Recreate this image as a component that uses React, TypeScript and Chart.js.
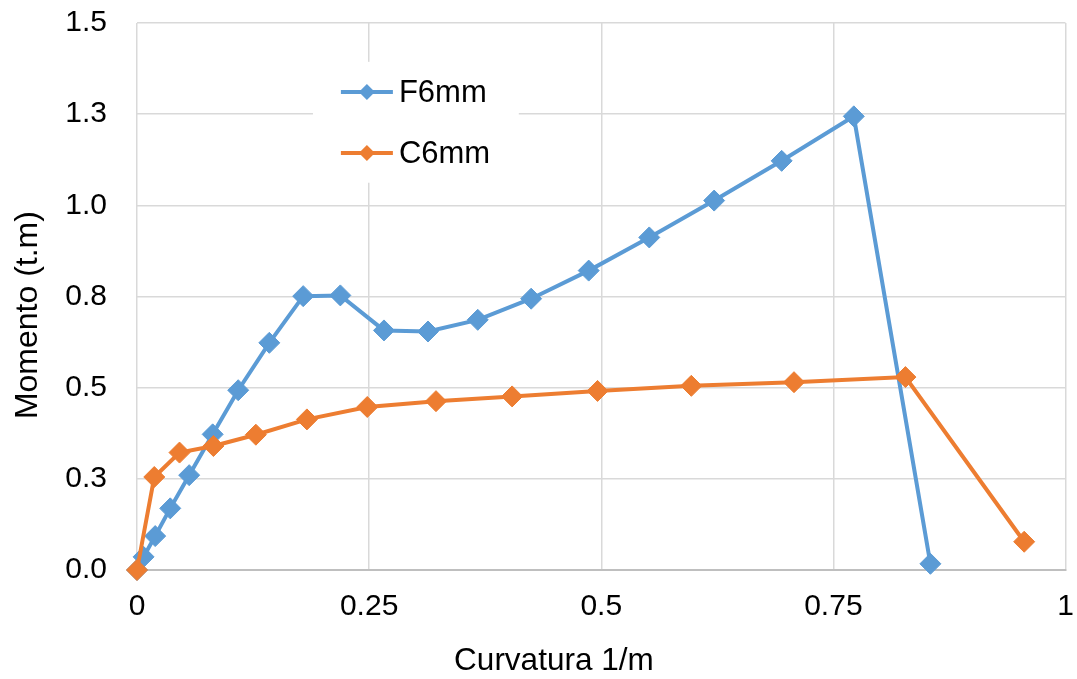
import React, { useEffect, useRef } from "react";
import { Chart, registerables } from "chart.js";

Chart.register(...registerables);

const seriesNames = ["F6mm", "C6mm"];
const seriesColors = ["#5B9BD5", "#ED7D31"];

const f6mmX = [0, 0.0071, 0.0196, 0.0358, 0.0562, 0.0815, 0.109, 0.1425, 0.179, 0.219, 0.266, 0.3134, 0.367, 0.4245, 0.4865, 0.5517, 0.6216, 0.6943, 0.772, 0.8545];
const f6mmY = [0, 0.036, 0.093, 0.169, 0.26, 0.372, 0.493, 0.623, 0.751, 0.753, 0.657, 0.654, 0.686, 0.744, 0.821, 0.912, 1.013, 1.122, 1.244, 0.017];

const c6mmX = [0, 0.0186, 0.0458, 0.0823, 0.128, 0.183, 0.248, 0.322, 0.404, 0.496, 0.597, 0.7076, 0.8276, 0.9555];
const c6mmY = [0, 0.255, 0.322, 0.34, 0.371, 0.413, 0.447, 0.463, 0.476, 0.491, 0.505, 0.515, 0.529, 0.0775];

const xTickLabels = ["0", "0.25", "0.5", "0.75", "1"];
const yTickLabels = ["0.0", "0.3", "0.5", "0.8", "1.0", "1.3", "1.5"];

const xTitle = "Curvatura 1/m";
const yTitle = "Momento (t.m)";

const FONT = "'Liberation Sans', Arial, sans-serif";

function diamond(ctx: CanvasRenderingContext2D, x: number, y: number, r: number, color: string) {
  ctx.beginPath();
  ctx.moveTo(x, y - r);
  ctx.lineTo(x + r, y);
  ctx.lineTo(x, y + r);
  ctx.lineTo(x - r, y);
  ctx.closePath();
  ctx.fillStyle = color;
  ctx.fill();
}

const legendPlugin = {
  id: "customLegend",
  beforeDatasetsDraw(chart: any) {
    const ctx = chart.ctx as CanvasRenderingContext2D;
    const area = chart.chartArea;
    const sx = area.right - area.left;
    const sy = area.bottom - area.top;
    const boxL = area.left + sx * 0.1895;
    const boxT = area.top + sy * 0.071;
    const boxW = sx * 0.2217;
    const boxH = sy * 0.221;
    ctx.save();
    ctx.fillStyle = "#ffffff";
    ctx.fillRect(boxL, boxT, boxW, boxH);
    const rows = [area.top + sy * 0.1261, area.top + sy * 0.2377];
    const lineL = area.left + sx * 0.2196;
    const lineR = area.left + sx * 0.2756;
    chart.data.datasets.forEach((ds: any, i: number) => {
      const y = rows[i];
      ctx.strokeStyle = ds.borderColor;
      ctx.lineWidth = 4;
      ctx.beginPath();
      ctx.moveTo(lineL, y);
      ctx.lineTo(lineR, y);
      ctx.stroke();
      diamond(ctx, (lineL + lineR) / 2, y, 8, ds.borderColor);
      ctx.fillStyle = "#000000";
      ctx.font = `31px ${FONT}`;
      ctx.textAlign = "left";
      ctx.textBaseline = "middle";
      ctx.fillText(ds.label, lineR + 6, y + 1);
    });
    ctx.restore();
  },
};

const axisTitlePlugin = {
  id: "axisTitles",
  afterDraw(chart: any) {
    const ctx = chart.ctx as CanvasRenderingContext2D;
    const area = chart.chartArea;
    ctx.save();
    ctx.fillStyle = "#000000";
    ctx.textAlign = "center";
    ctx.textBaseline = "middle";
    ctx.font = `31.5px ${FONT}`;
    ctx.fillText(xTitle, area.left + (area.right - area.left) * 0.449, area.bottom + 91);
    ctx.translate(28, area.top + (area.bottom - area.top) * 0.534);
    ctx.rotate(-Math.PI / 2);
    ctx.font = `32px ${FONT}`;
    ctx.fillText(yTitle, 0, 0);
    ctx.restore();
  },
};

function zeroPadding(s: any) {
  s.paddingTop = 0;
  s.paddingBottom = 0;
  s.paddingLeft = 0;
  s.paddingRight = 0;
}

export default function App() {
  const ref = useRef<HTMLCanvasElement | null>(null);

  useEffect(() => {
    if (!ref.current) return;
    const mk = (xs: number[], ys: number[]) => xs.map((x, i) => ({ x, y: ys[i] }));
    const ds = (i: number, xs: number[], ys: number[], order: number) => ({
      label: seriesNames[i],
      data: mk(xs, ys),
      order,
      showLine: true,
      borderColor: seriesColors[i],
      backgroundColor: seriesColors[i],
      borderWidth: 4,
      pointStyle: "rectRot",
      pointRadius: 10.5,
      pointBorderWidth: 1,
      pointBorderColor: seriesColors[i],
      pointBackgroundColor: seriesColors[i],
      tension: 0,
      clip: false,
    });
    const chart = new Chart(ref.current, {
      type: "scatter",
      data: {
        datasets: [ds(0, f6mmX, f6mmY, 1), ds(1, c6mmX, c6mmY, 0)],
      },
      options: {
        responsive: false,
        animation: false,
        devicePixelRatio: 1,
        layout: { padding: { top: 23, right: 11, left: 0, bottom: 0 } },
        plugins: {
          legend: { display: false },
          tooltip: { enabled: false },
        },
        scales: {
          x: {
            type: "linear",
            min: 0,
            max: 1,
            ticks: {
              stepSize: 0.25,
              padding: 19,
              color: "#000000",
              font: { family: FONT, size: 30 },
              maxRotation: 0,
              callback: (_v: any, i: number) => xTickLabels[i],
            },
            grid: { color: "#d9d9d9", lineWidth: 1.5, drawTicks: false },
            border: { display: true, color: "#bfbfbf", width: 2 },
            afterFit: (s: any) => {
              s.height = 109;
              zeroPadding(s);
            },
          },
          y: {
            type: "linear",
            min: 0,
            max: 1.5,
            ticks: {
              stepSize: 0.25,
              padding: 30,
              color: "#000000",
              font: { family: FONT, size: 30 },
              callback: (_v: any, i: number) => yTickLabels[i],
            },
            grid: { color: "#d9d9d9", lineWidth: 1.5, drawTicks: false },
            border: { display: false },
            afterFit: (s: any) => {
              s.width = 137;
              zeroPadding(s);
            },
          },
        },
      },
      plugins: [legendPlugin, axisTitlePlugin],
    } as any);
    return () => chart.destroy();
  }, []);

  return (
    <div style={{ position: "fixed", left: 0, top: 0, width: 1077, height: 679, background: "#ffffff" }}>
      <canvas ref={ref} width={1077} height={679} style={{ display: "block" }} />
    </div>
  );
}
